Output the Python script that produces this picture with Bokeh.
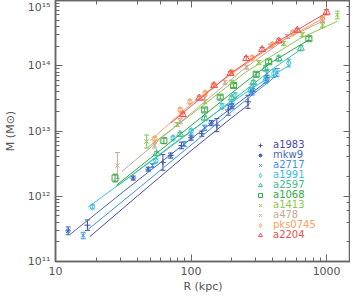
from bokeh.plotting import figure
from bokeh.models import (LogAxis, LogTicker, CustomJSTickFormatter, Whisker, TeeHead,
                          ColumnDataSource, Legend, LegendItem, Range1d, Title)
from bokeh.embed import file_html
from bokeh.resources import INLINE

# ---------------- data (R in kpc, M in solar masses, err in dex) ----------------
a1983_r = [17.2, 62, 85, 120, 155, 188, 263]
a1983_m = [3.6e11, 3.3e12, 6.0e12, 9.1e12, 1.23e13, 2.1e13, 2.8e13]
a1983_e = [0.08, 0.12, 0.05, 0.04, 0.10, 0.08, 0.10]
a1983_lr = [17.9, 40, 100, 200, 270]
a1983_lm = [2.4e11, 1.0e12, 5.0e12, 1.6e13, 2.6e13]

mkw9_r = [12.4, 37.4, 48.3, 70.8, 100, 141, 200, 282, 363]
mkw9_m = [2.95e11, 1.9e12, 2.6e12, 4.2e12, 7.9e12, 1.32e13, 2.4e13, 4.0e13, 6.3e13]
mkw9_e = [0.06, 0.03, 0.03, 0.04, 0.04, 0.04, 0.04, 0.05, 0.05]
mkw9_lr = [12.9, 31.6, 79.4, 158, 373]
mkw9_lm = [2.63e11, 1.17e12, 5.25e12, 1.58e13, 6.0e13]

a2717_r = [16.0, 52, 89, 126, 200, 288, 363, 431]
a2717_m = [2.5e11, 2.95e12, 6.3e12, 1.12e13, 2.5e13, 4.6e13, 7.6e13, 7.9e13]
a2717_e = [0.05, 0.03, 0.04, 0.04, 0.05, 0.06, 0.06, 0.06]
a2717_lr = [16.9, 39.8, 89, 200, 431]
a2717_lm = [2.95e11, 1.26e12, 5.0e12, 2.0e13, 7.2e13]

a1991_r = [18.7, 55, 73.6, 100, 169, 211, 274, 353, 407, 526]
a1991_m = [6.9e11, 3.5e12, 7.8e12, 1.0e13, 2.4e13, 3.5e13, 4.2e13, 6.0e13, 7.6e13, 1.1e14]
a1991_e = [0.03, 0.03, 0.03, 0.03, 0.04, 0.04, 0.04, 0.05, 0.06, 0.06]
a1991_lr = [17.4, 39.8, 79.4, 158, 316, 525]
a1991_lm = [6.8e11, 2.4e12, 7.1e12, 2.0e13, 5.25e13, 1.0e14]

a2597_r = [55.7, 83, 126, 200, 288, 353, 443, 646]
a2597_m = [4.5e12, 8.9e12, 1.58e13, 3.2e13, 5.5e13, 9.1e13, 1.29e14, 1.86e14]
a2597_e = [0.03, 0.03, 0.03, 0.03, 0.03, 0.04, 0.04, 0.04]
a2597_lr = [28.2, 63, 126, 251, 398, 646]
a2597_lm = [1.41e12, 4.8e12, 1.41e13, 4.2e13, 8.9e13, 1.78e14]

a1068_r = [27.5, 63, 126, 164, 206, 302, 374, 740]
a1068_m = [1.9e12, 7.1e12, 2.1e13, 3.3e13, 5.0e13, 7.4e13, 1.15e14, 2.6e14]
a1068_e = [0.06, 0.04, 0.03, 0.03, 0.03, 0.03, 0.03, 0.03]
a1068_lr = [28.2, 63, 126, 251, 398, 741]
a1068_lm = [1.48e12, 5.6e12, 1.78e13, 5.6e13, 1.15e14, 2.5e14]

a1413_r = [47, 79, 126, 200, 316, 483, 661, 933, 1200]
a1413_m = [6.9e12, 1.26e13, 2.8e13, 5.6e13, 1.12e14, 2.2e14, 3.0e14, 4.2e14, 6.0e14]
a1413_e = [0.10, 0.03, 0.03, 0.03, 0.03, 0.03, 0.03, 0.04, 0.06]
a1413_lr = [47.9, 100, 251, 631, 1202]
a1413_lm = [5.6e12, 1.78e13, 7.9e13, 2.6e14, 4.8e14]

a478_r = [28.6, 54, 83, 126, 178, 257, 385, 513, 933]
a478_m = [2.95e12, 6.0e12, 1.41e13, 3.2e13, 5.6e13, 9.5e13, 2.0e14, 2.8e14, 5.0e14]
a478_e = [0.20, 0.04, 0.04, 0.03, 0.03, 0.03, 0.03, 0.03, 0.04]
a478_lr = [30.9, 63, 126, 251, 501, 933]
a478_lm = [2.4e12, 8.3e12, 2.8e13, 9.3e13, 2.6e14, 4.8e14]

pks0745_r = [54, 83, 98, 127, 146, 200, 282, 398, 562, 933]
pks0745_m = [7.6e12, 2.1e13, 2.8e13, 3.8e13, 5.0e13, 7.9e13, 1.32e14, 2.1e14, 3.2e14, 5.25e14]
pks0745_e = [0.03, 0.03, 0.03, 0.03, 0.03, 0.03, 0.03, 0.03, 0.03, 0.04]
pks0745_lr = [50, 100, 200, 398, 933]
pks0745_lm = [7.1e12, 2.6e13, 7.6e13, 2.0e14, 5.25e14]

a2204_r = [87, 115, 148, 195, 255, 334, 443, 607, 1000]
a2204_m = [1.78e13, 3.2e13, 5.0e13, 7.6e13, 1.29e14, 1.78e14, 2.4e14, 3.5e14, 6.6e14]
a2204_e = [0.03, 0.03, 0.03, 0.03, 0.03, 0.03, 0.03, 0.03, 0.04]
a2204_lr = [71, 100, 200, 398, 1000]
a2204_lm = [1.32e13, 2.4e13, 7.9e13, 2.1e14, 6.5e14]

clusters = [
    ("a1983", a1983_r, a1983_m, a1983_e, a1983_lr, a1983_lm, "#4a4aa8", "cross"),
    ("mkw9", mkw9_r, mkw9_m, mkw9_e, mkw9_lr, mkw9_lm, "#3f68c0", "asterisk"),
    ("a2717", a2717_r, a2717_m, a2717_e, a2717_lr, a2717_lm, "#3f92e0", "x"),
    ("a1991", a1991_r, a1991_m, a1991_e, a1991_lr, a1991_lm, "#38c0e0", "diamond"),
    ("a2597", a2597_r, a2597_m, a2597_e, a2597_lr, a2597_lm, "#3cc090", "triangle"),
    ("a1068", a1068_r, a1068_m, a1068_e, a1068_lr, a1068_lm, "#34a844", "square"),
    ("a1413", a1413_r, a1413_m, a1413_e, a1413_lr, a1413_lm, "#8cc84a", "x"),
    ("a478", a478_r, a478_m, a478_e, a478_lr, a478_lm, "#c8a898", "x"),
    ("pks0745", pks0745_r, pks0745_m, pks0745_e, pks0745_lr, pks0745_lm, "#f8a060", "diamond"),
    ("a2204", a2204_r, a2204_m, a2204_e, a2204_lr, a2204_lm, "#f05050", "triangle"),
]

FONT = "DejaVu Sans"
TXT = "#555555"
AX = "#666666"

p = figure(width=350, height=292, x_axis_type="log", y_axis_type="log",
           x_range=Range1d(10, 1500), y_range=Range1d(1e11, 1e15),
           output_backend="svg", toolbar_location=None,
           min_border_left=48, min_border_right=0, min_border_top=0, min_border_bottom=0)
p.grid.visible = False
p.outline_line_color = AX
p.outline_line_width = 1.5
p.background_fill_color = "white"

sup_js = """
const s = {'0':'\u2070','1':'\u00b9','2':'\u00b2','3':'\u00b3','4':'\u2074','5':'\u2075','6':'\u2076','7':'\u2077','8':'\u2078','9':'\u2079','-':'\u207b'};
const e = Math.round(Math.log10(tick));
return '10' + String(e).split('').map(c => s[c]).join('');
"""
p.yaxis.formatter = CustomJSTickFormatter(code=sup_js)
p.xaxis.formatter = CustomJSTickFormatter(code="return Math.round(tick).toString();")


def style(ax, labels=True):
    ax.axis_line_color = AX
    ax.axis_line_width = 1.5
    ax.major_tick_line_color = AX
    ax.minor_tick_line_color = AX
    ax.major_tick_in = 7
    ax.major_tick_out = 0
    ax.minor_tick_in = 4
    ax.minor_tick_out = 0
    ax.major_label_text_font = FONT
    ax.major_label_text_color = TXT
    ax.major_label_text_font_size = "11px" if labels else "0px"
    ax.axis_label_text_font = FONT
    ax.axis_label_text_color = TXT
    ax.axis_label_text_font_size = "11px"
    ax.axis_label_text_font_style = "normal"


style(p.xaxis[0])
style(p.yaxis[0])
p.yaxis.axis_label = "M (M\u2299)"
p.xaxis.major_label_standoff = 5
p.yaxis.major_label_standoff = 5
p.yaxis.axis_label_standoff = 8

p.add_layout(Title(text="R (kpc)", align="center", text_font=FONT, text_font_size="11px",
                   text_color=TXT, text_font_style="normal", standoff=0, offset=0), "below")

top = LogAxis(ticker=LogTicker(), formatter=CustomJSTickFormatter(code="return '';"))
style(top, labels=False)
top.major_label_standoff = 0
p.add_layout(top, "above")
right = LogAxis(ticker=LogTicker(), formatter=CustomJSTickFormatter(code="return '';"))
style(right, labels=False)
right.major_label_standoff = 0
p.add_layout(right, "right")

for i, (name, r, m, e, lr, lm, col, mk) in enumerate(clusters):
    p.line(lr, lm, line_color=col, line_width=1)
    lo = [mm / 10 ** ee for mm, ee in zip(m, e)]
    hi = [mm * 10 ** ee for mm, ee in zip(m, e)]
    src = ColumnDataSource(dict(x=r, y=m, lo=lo, hi=hi))
    w = Whisker(base="x", lower="lo", upper="hi", dimension="height", source=src,
                line_color=col, line_width=1,
                lower_head=TeeHead(size=5, line_color=col, line_width=1),
                upper_head=TeeHead(size=5, line_color=col, line_width=1))
    p.add_layout(w)
    sz = 7 if mk in ("diamond", "triangle") else 6
    rr = p.scatter("x", "y", source=src, marker=mk, size=sz, line_color=col,
                   fill_color=None, line_width=1)
    leg = Legend(items=[LegendItem(label=name, renderers=[rr])],
                 location=(199, 111 - 10 * i), padding=0, margin=0, spacing=0,
                 glyph_width=12, glyph_height=10, label_height=10, label_standoff=7,
                 label_text_font=FONT, label_text_font_size="10px", label_text_color=col,
                 border_line_color=None, background_fill_alpha=0)
    p.add_layout(leg)

open("out.html", "w", encoding="utf-8").write(file_html(p, INLINE))
